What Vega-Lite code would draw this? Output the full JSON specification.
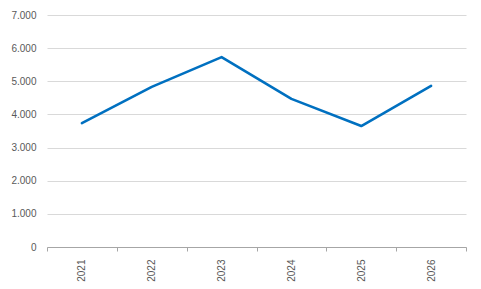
{
  "$schema": "https://vega.github.io/schema/vega-lite/v6.json",
  "width": 419,
  "height": 232,
  "autosize": "none",
  "padding": {"left": 47, "top": 15, "right": 15, "bottom": 42},
  "background": "white",
  "config": {
    "view": {"stroke": null},
    "font": "Liberation Sans",
    "axis": {"labelFont": "Liberation Sans", "labelFontSize": 10, "labelColor": "#595959"}
  },
  "data": {
    "values": [
      {"year": "2021", "value": 3740},
      {"year": "2022", "value": 4830},
      {"year": "2023", "value": 5730},
      {"year": "2024", "value": 4470},
      {"year": "2025", "value": 3650},
      {"year": "2026", "value": 4860}
    ]
  },
  "mark": {"type": "line", "color": "#0070c0", "strokeWidth": 2.6, "strokeCap": "round", "strokeJoin": "round"},
  "encoding": {
    "x": {
      "field": "year",
      "type": "ordinal",
      "scale": {"type": "band", "paddingInner": 0, "paddingOuter": 0},
      "axis": {
        "title": null,
        "labelAngle": -90,
        "labelAlign": "right",
        "labelBaseline": "middle",
        "labelPadding": 8,
        "tickBand": "extent",
        "domainColor": "#a6a6a6",
        "tickColor": "#a6a6a6",
        "tickSize": 4,
        "grid": false
      }
    },
    "y": {
      "field": "value",
      "type": "quantitative",
      "scale": {"domain": [0, 7000], "nice": false},
      "axis": {
        "title": null,
        "values": [0, 1000, 2000, 3000, 4000, 5000, 6000, 7000],
        "labelExpr": "replace(format(datum.value, ','), ',', '.')",
        "domain": false,
        "ticks": false,
        "labelPadding": 11,
        "gridColor": "#d9d9d9",
        "gridWidth": 1
      }
    }
  }
}
